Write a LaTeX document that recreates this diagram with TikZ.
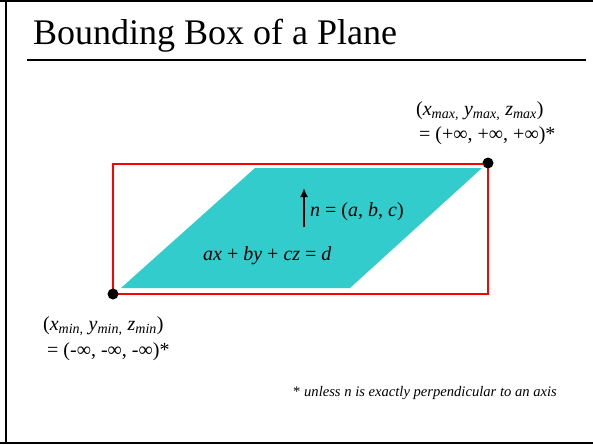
\documentclass[tikz,border=0pt]{standalone}
\usepackage{fontspec}
\setmainfont{Liberation Serif}
\usetikzlibrary{arrows.meta}
\definecolor{planecyan}{HTML}{33CCCC}
\tikzset{
  frameline/.style={line width=2.5pt, black},
  boxline/.style={draw=red, line width=2.2pt},
  cornerdot/.style={circle, fill=black, minimum size=11pt, inner sep=0pt},
  lbl/.style={font=\fontsize{20}{24}\selectfont, inner sep=0pt, anchor=base west},
  titletext/.style={font=\fontsize{36}{40}\selectfont, inner sep=0pt, anchor=base west},
  notetext/.style={font=\fontsize{14.6}{16}\selectfont\itshape, inner sep=0pt, anchor=base west}
}
\newcommand{\sub}[1]{\textsubscript{\textit{#1}}}

\begin{document}
\begin{tikzpicture}[x=1pt, y=-1pt]
  \useasboundingbox (0,0) rectangle (593,444);

  % slide frame and title
  \draw[frameline] (0,1) -- (593,1);
  \draw[frameline] (6,0) -- (6,444);
  \draw[frameline] (0,443) -- (593,443);
  \node[titletext] (title) at (33,45) {Bounding Box of a Plane};
  \draw[line width=2.2pt] (27,60) -- (586,60);

  % plane and its box
  \fill[planecyan] (121,288) -- (255,168) -- (482,168) -- (350,288) -- cycle;
  \draw[boxline] (113,164) rectangle (488,294);
  \node[cornerdot] (minpt) at (113,294) {};
  \node[cornerdot] (maxpt) at (488,163) {};

  % normal
  \coordinate (ntail) at (304,227);
  \coordinate (nhead) at (304,188);
  \draw[line width=2.4pt, -{Latex[length=9pt,width=8pt]}] (ntail) -- (nhead);
  \node[lbl] (normal) at (310,216) {\textit{n} = (\textit{a}, \textit{b}, \textit{c})};
  \node[lbl] (eqn) at (203,260) {\textit{ax} + \textit{by} + \textit{cz} = \textit{d}};

  % corner labels
  \node[lbl] (maxlbl) at (416,115) {(\textit{x}\sub{max,} \textit{y}\sub{max,} \textit{z}\sub{max})};
  \node[lbl] (maxval) at (419,140) {= (+∞, +∞, +∞)*};
  \node[lbl] (minlbl) at (43,330) {(\textit{x}\sub{min,} \textit{y}\sub{min,} \textit{z}\sub{min})};
  \node[lbl] (minval) at (47,356) {= (-∞, -∞, -∞)*};

  \node[notetext] (note) at (293,396) {\upshape* \itshape unless n is exactly perpendicular to an axis};
\end{tikzpicture}
\end{document}
